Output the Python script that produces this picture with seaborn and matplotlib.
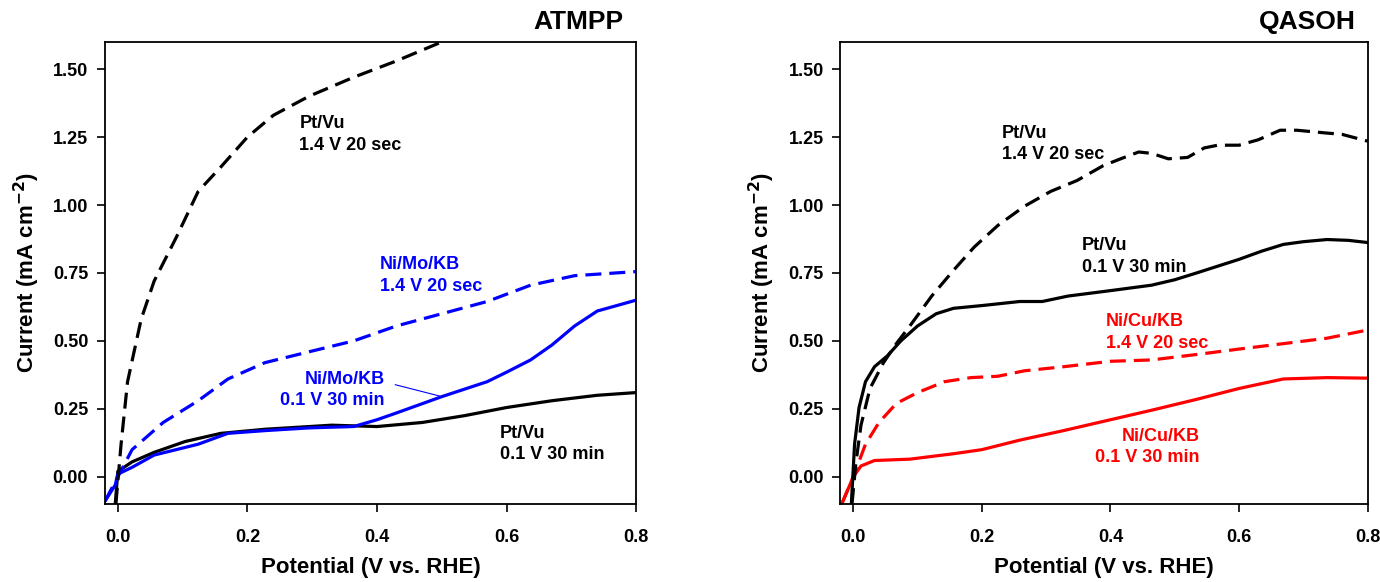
import matplotlib
matplotlib.use('Agg')
import seaborn as sns
import matplotlib.pyplot as plt

# ATMPP panel data (potential V vs RHE, current mA cm-2)
atm_pt_long_x = [-0.003, 0.005, 0.015, 0.036, 0.056, 0.09, 0.124, 0.159, 0.2, 0.24, 0.295, 0.364, 0.43, 0.5]
atm_pt_long_y = [-0.10, 0.12, 0.35, 0.58, 0.72, 0.88, 1.05, 1.14, 1.25, 1.33, 1.40, 1.47, 1.53, 1.60]

atm_nimo_long_x = [-0.02, 0.0, 0.022, 0.07, 0.124, 0.17, 0.227, 0.295, 0.364, 0.43, 0.5, 0.57, 0.637, 0.705, 0.8]
atm_nimo_long_y = [-0.09, 0.0, 0.10, 0.20, 0.28, 0.36, 0.42, 0.46, 0.50, 0.555, 0.60, 0.645, 0.705, 0.74, 0.755]

atm_nimo_short_x = [-0.02, -0.004, 0.0, 0.022, 0.056, 0.124, 0.17, 0.227, 0.295, 0.364, 0.4, 0.43, 0.5, 0.57, 0.6, 0.637, 0.67, 0.705, 0.74, 0.8]
atm_nimo_short_y = [-0.09, -0.03, 0.01, 0.035, 0.08, 0.12, 0.16, 0.17, 0.18, 0.185, 0.21, 0.235, 0.295, 0.35, 0.385, 0.43, 0.485, 0.555, 0.61, 0.65]

atm_pt_short_x = [-0.004, 0.0, 0.022, 0.056, 0.104, 0.159, 0.227, 0.33, 0.4, 0.47, 0.535, 0.6, 0.67, 0.74, 0.8]
atm_pt_short_y = [-0.10, 0.02, 0.055, 0.09, 0.13, 0.16, 0.175, 0.19, 0.185, 0.20, 0.225, 0.255, 0.28, 0.30, 0.31]

# QASOH panel data
qas_pt_long_x = [-0.002, 0.004, 0.012, 0.026, 0.047, 0.067, 0.088, 0.122, 0.156, 0.188, 0.225, 0.266, 0.307, 0.348, 0.389,
                 0.416, 0.444, 0.464, 0.49, 0.52, 0.546, 0.567, 0.6, 0.63, 0.664, 0.69, 0.735, 0.76, 0.8]
qas_pt_long_y = [-0.10, 0.05, 0.19, 0.325, 0.42, 0.49, 0.555, 0.665, 0.76, 0.845, 0.925, 0.995, 1.05, 1.09, 1.145,
                 1.17, 1.195, 1.19, 1.17, 1.175, 1.21, 1.22, 1.22, 1.24, 1.275, 1.275, 1.265, 1.26, 1.235]

qas_pt_short_x = [-0.003, 0.002, 0.009, 0.019, 0.033, 0.053, 0.074, 0.1, 0.129, 0.156, 0.2, 0.259, 0.294, 0.334, 0.4,
                  0.464, 0.5, 0.534, 0.567, 0.6, 0.635, 0.669, 0.7, 0.737, 0.77, 0.8]
qas_pt_short_y = [-0.10, 0.12, 0.255, 0.35, 0.405, 0.445, 0.50, 0.555, 0.60, 0.62, 0.63, 0.645, 0.645, 0.665, 0.685,
                  0.705, 0.725, 0.75, 0.775, 0.80, 0.83, 0.855, 0.865, 0.873, 0.87, 0.862]

qas_nicu_long_x = [-0.018, 0.0, 0.019, 0.04, 0.067, 0.1, 0.142, 0.183, 0.225, 0.266, 0.327, 0.4, 0.464, 0.534, 0.6, 0.669, 0.737, 0.8]
qas_nicu_long_y = [-0.10, 0.0, 0.12, 0.20, 0.27, 0.31, 0.35, 0.365, 0.37, 0.39, 0.405, 0.425, 0.43, 0.45, 0.47, 0.49, 0.51, 0.54]

qas_nicu_short_x = [-0.018, 0.0, 0.012, 0.033, 0.088, 0.156, 0.2, 0.259, 0.327, 0.4, 0.464, 0.534, 0.6, 0.669, 0.737, 0.8]
qas_nicu_short_y = [-0.10, 0.0, 0.04, 0.06, 0.065, 0.085, 0.10, 0.135, 0.17, 0.21, 0.245, 0.285, 0.325, 0.36, 0.365, 0.363]

x_ticks = [0.0, 0.2, 0.4, 0.6, 0.8]
y_ticks = [0.0, 0.25, 0.5, 0.75, 1.0, 1.25, 1.5]

sns.set_style('ticks')
plt.rcParams['font.family'] = ['Liberation Sans', 'DejaVu Sans']
plt.rcParams['font.weight'] = 'bold'
for key in ['text.color', 'axes.labelcolor', 'xtick.color', 'ytick.color']:
    plt.rcParams[key] = 'black'

fig = plt.figure(figsize=(13.8, 5.82), dpi=100)
ax1 = fig.add_axes([0.076, 0.134, 0.385, 0.794])
ax2 = fig.add_axes([0.609, 0.134, 0.382, 0.794])

BLUE = '#0000ff'
RED = '#ff0000'
lw = 2.3
dash = (5, 2.5)
fs = 13


def draw(ax, x, y, color, dashed):
    line_kw = dict(x=x, y=y, ax=ax, color=color, lw=lw, sort=False, estimator=None)
    sns.lineplot(**line_kw)
    if dashed:
        ax.lines[-1].set_dashes(dash)


def note(ax, x, y, s, color='black', ha='left'):
    ax.text(x, y, s, fontsize=fs, fontweight='bold', va='center', ha=ha,
            color=color, linespacing=1.35)


# 1. ATMPP
draw(ax1, atm_pt_short_x, atm_pt_short_y, 'black', False)
draw(ax1, atm_nimo_short_x, atm_nimo_short_y, BLUE, False)
draw(ax1, atm_nimo_long_x, atm_nimo_long_y, BLUE, True)
draw(ax1, atm_pt_long_x, atm_pt_long_y, 'black', True)

note(ax1, 0.28, 1.26, 'Pt/Vu\n1.4 V 20 sec')
note(ax1, 0.405, 0.74, 'Ni/Mo/KB\n1.4 V 20 sec', BLUE)
note(ax1, 0.412, 0.32, 'Ni/Mo/KB\n0.1 V 30 min', BLUE, 'right')
ax1.plot([0.428, 0.497], [0.339, 0.297], color=BLUE, lw=0.8)
note(ax1, 0.59, 0.12, 'Pt/Vu\n0.1 V 30 min')

# 2. QASOH
draw(ax2, qas_nicu_short_x, qas_nicu_short_y, RED, False)
draw(ax2, qas_nicu_long_x, qas_nicu_long_y, RED, True)
draw(ax2, qas_pt_short_x, qas_pt_short_y, 'black', False)
draw(ax2, qas_pt_long_x, qas_pt_long_y, 'black', True)

note(ax2, 0.231, 1.225, 'Pt/Vu\n1.4 V 20 sec')
note(ax2, 0.356, 0.81, 'Pt/Vu\n0.1 V 30 min')
note(ax2, 0.393, 0.53, 'Ni/Cu/KB\n1.4 V 20 sec', RED)
note(ax2, 0.539, 0.11, 'Ni/Cu/KB\n0.1 V 30 min', RED, 'right')

for ax, title in [(ax1, 'ATMPP'), (ax2, 'QASOH')]:
    ax.set_xlim(-0.02, 0.8)
    ax.set_ylim(-0.1, 1.6)
    ax.set_xticks(x_ticks)
    ax.set_xticklabels([f'{v:.1f}' for v in x_ticks])
    ax.set_yticks(y_ticks)
    ax.set_yticklabels([f'{v:.2f}' for v in y_ticks])
    ax.tick_params(direction='out', length=6, width=1.2, labelsize=13, pad=6)
    ax.tick_params(axis='x', pad=12)
    for lab in ax.get_xticklabels() + ax.get_yticklabels():
        lab.set_fontweight('bold')
    for sp in ax.spines.values():
        sp.set_visible(True)
        sp.set_linewidth(1.3)
        sp.set_color('black')
    ax.set_xlabel('Potential (V vs. RHE)', fontsize=16, fontweight='bold', labelpad=8)
    ax.set_ylabel('Current (mA cm$^{\\mathbf{-2}}$)', fontsize=16, fontweight='bold', labelpad=8)
    ax.text(0.977, 1.042, title, transform=ax.transAxes, fontsize=19,
            fontweight='bold', ha='right', va='center')

fig.savefig('out.png', dpi=100)
